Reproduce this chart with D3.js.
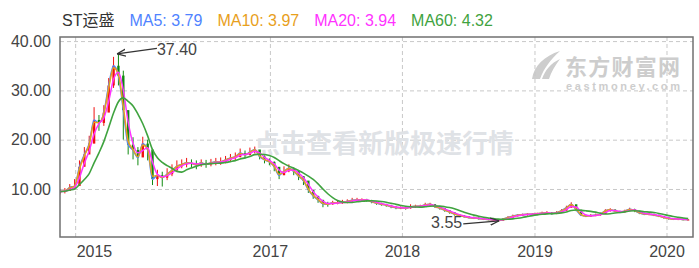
<!DOCTYPE html>
<html lang="zh">
  <head>
    <meta charset="utf-8">
    <title>ST运盛</title>
    <script src="https://d3js.org/d3.v7.min.js"></script>
    <style>
      body { margin: 0; background: #fff; }
      svg text { font-family: Arial, "Liberation Sans", "Noto Sans CJK SC", sans-serif; }
    </style>
  </head>
  <body>
    <div id="chart"></div>
    <script type="text/javascript">
      // each bar covers 9 trading days, first bar starts at trading day 0
      const barDays = 9;
      const totalDays = 1170;

      const closes = [9.5, 9.6, 10.3, 10.6, 14.5, 17.0, 19.2, 24.0, 23.4, 25.5,
        31.0, 35.0, 33.0, 26.0, 19.0, 17.9, 16.4, 19.2, 18.0, 12.0,
        12.8, 12.3, 13.0, 13.8, 14.6, 15.0, 15.3, 15.2, 14.9, 15.3,
        15.0, 15.3, 15.5, 15.5, 15.9, 16.3, 16.5, 17.3, 16.9, 17.5,
        18.0, 16.6, 15.9, 15.5, 14.5, 12.8, 13.6, 14.2, 13.6, 12.6,
        11.7, 9.8, 8.6, 7.8, 7.0, 6.9, 7.2, 7.2, 7.3, 7.5,
        7.7, 7.8, 7.8, 7.7, 7.4, 7.1, 6.9, 6.7, 6.4, 6.2,
        6.2, 6.1, 6.4, 6.5, 6.5, 6.8, 6.9, 6.4, 6.1, 5.7,
        5.3, 4.9, 4.6, 4.4, 4.2, 4.1, 4.0, 3.9, 3.8, 3.7,
        3.6, 3.9, 4.2, 4.5, 4.7, 4.8, 4.9, 4.9, 5.0, 5.1,
        5.2, 5.0, 5.2, 5.6, 6.2, 6.9, 5.8, 4.7, 4.5, 4.6,
        4.7, 4.9, 5.6, 5.8, 5.5, 5.3, 5.5, 5.9, 5.6, 5.1,
        4.9, 4.9, 4.7, 4.5, 4.2, 4.0, 3.9, 3.9, 3.8, 3.8];

      const opens = [9.2, 9.5, 9.6, 10.3, 10.6, 14.5, 17.0, 19.2, 24.0, 23.4,
        25.5, 31.0, 35.0, 33.0, 26.0, 19.0, 17.9, 16.4, 19.2, 18.0,
        12.0, 12.8, 12.3, 13.0, 13.8, 14.6, 15.0, 15.3, 15.2, 14.9,
        15.3, 15.0, 15.3, 15.5, 15.5, 15.9, 16.3, 16.5, 17.3, 16.9,
        17.5, 18.0, 16.6, 15.9, 15.5, 14.5, 12.8, 13.6, 14.2, 13.6,
        12.6, 11.7, 9.8, 8.6, 7.8, 7.0, 6.9, 7.2, 7.2, 7.3,
        7.5, 7.7, 7.8, 7.8, 7.7, 7.4, 7.1, 6.9, 6.7, 6.4,
        6.2, 6.2, 6.1, 6.4, 6.5, 6.5, 6.8, 6.9, 6.4, 6.1,
        5.7, 5.3, 4.9, 4.6, 4.4, 4.2, 4.1, 4.0, 3.9, 3.8,
        3.7, 3.6, 3.9, 4.2, 4.5, 4.7, 4.8, 4.9, 4.9, 5.0,
        5.1, 5.2, 5.0, 5.2, 5.6, 6.2, 6.9, 5.8, 4.7, 4.5,
        4.6, 4.7, 4.9, 5.6, 5.8, 5.5, 5.3, 5.5, 5.9, 5.6,
        5.1, 4.9, 4.9, 4.7, 4.5, 4.2, 4.0, 3.9, 3.9, 3.8];

      const highs = [10.0, 10.2, 11.0, 12.0, 15.8, 18.5, 20.8, 26.6, 25.0, 27.0,
        32.5, 36.8, 37.4, 34.0, 23.0, 20.5, 18.5, 20.6, 20.0, 15.5,
        13.9, 13.5, 14.2, 15.0, 15.8, 16.0, 16.3, 16.0, 15.8, 16.0,
        15.9, 16.1, 16.3, 16.4, 16.7, 17.1, 17.4, 18.2, 17.8, 18.4,
        18.6, 17.8, 16.8, 16.2, 15.6, 14.2, 14.6, 15.0, 14.4, 13.6,
        12.6, 11.0, 9.6, 8.6, 7.6, 7.4, 7.6, 7.6, 7.8, 7.9,
        8.2, 8.2, 8.1, 8.0, 7.8, 7.5, 7.2, 7.0, 6.8, 6.5,
        6.5, 6.4, 6.9, 6.8, 6.8, 7.2, 7.2, 6.9, 6.4, 6.1,
        5.7, 5.3, 4.9, 4.7, 4.5, 4.4, 4.3, 4.2, 4.1, 3.9,
        3.9, 4.1, 4.5, 4.8, 4.9, 5.0, 5.1, 5.1, 5.2, 5.4,
        5.5, 5.3, 5.5, 5.9, 6.6, 7.3, 6.7, 5.6, 4.8, 4.9,
        5.0, 5.2, 5.9, 6.1, 5.9, 5.6, 5.8, 6.2, 6.0, 5.5,
        5.2, 5.1, 5.0, 4.8, 4.5, 4.3, 4.1, 4.1, 4.0, 3.9];

      const lows = [8.9, 9.1, 9.6, 10.1, 12.0, 15.2, 17.6, 21.0, 21.8, 22.8,
        26.0, 30.5, 31.0, 20.0, 17.0, 16.0, 14.8, 17.0, 15.8, 10.8,
        10.6, 10.5, 11.8, 12.6, 13.5, 14.2, 14.4, 14.3, 14.0, 14.5,
        14.3, 14.6, 14.8, 14.9, 15.2, 15.6, 15.8, 16.4, 16.2, 16.8,
        17.2, 16.0, 15.2, 14.8, 13.6, 12.0, 12.8, 13.4, 12.8, 11.8,
        10.8, 9.2, 8.0, 7.2, 6.3, 6.4, 6.8, 6.9, 7.0, 7.1,
        7.3, 7.4, 7.5, 7.4, 7.1, 6.8, 6.6, 6.4, 6.1, 5.9,
        5.9, 5.8, 6.0, 6.2, 6.2, 6.4, 6.6, 6.2, 5.8, 5.4,
        5.0, 4.6, 4.3, 4.2, 4.0, 3.9, 3.8, 3.7, 3.65, 3.6,
        3.55, 3.6, 3.9, 4.2, 4.4, 4.5, 4.6, 4.7, 4.7, 4.8,
        4.9, 4.8, 4.9, 5.2, 5.6, 6.2, 5.5, 4.5, 4.3, 4.4,
        4.5, 4.6, 5.0, 5.4, 5.3, 5.1, 5.2, 5.5, 5.3, 4.9,
        4.7, 4.7, 4.5, 4.3, 4.0, 3.8, 3.7, 3.7, 3.65, 3.7];

      // first trading day of each labelled year
      const yearTickDays = [28, 388, 632, 877, 1121];
      const yearLabels = ["2015", "2017", "2018", "2019", "2020"];
      const priceTicks = [10, 20, 30, 40];

      const stockName = "ST运盛";
      const maNames = ["MA5", "MA10", "MA20", "MA60"];
      const maDays = [5, 10, 20, 60];
      const maLatest = ["3.79", "3.97", "3.94", "4.32"];
      const maColors = ["#4f83ff", "#e8a01c", "#ff33ff", "#3fa33f"];

      const width = 699, height = 268;
      const plot = { left: 60, right: 693, top: 37, bottom: 237 };

      let svg = d3.select("#chart").append("svg")
        .attr("width", width)
        .attr("height", height);

      let xScale = d3.scaleLinear().domain([0, totalDays]).range([plot.left, plot.right]);
      let yScale = d3.scaleLinear().domain([0.26, 40.83]).range([plot.bottom, plot.top]);

      // moving average over the bar closes, window given in trading days
      let movingAverage = function(values, days) {
        let span = days / barDays;
        return values.map((v, i) => {
          let left = span, sum = 0, wsum = 0;
          for (let k = i; k >= 0 && left > 0; k--) {
            let w = Math.min(1, left);
            sum += values[k] * w;
            wsum += w;
            left -= w;
          }
          return sum / wsum;
        });
      }

      // watermark: eastmoney logo
      let logo = svg.append("g").attr("fill", "#cdcdcd");
      logo.append("path")
        .attr("d", "M532,79 C534,66 544,56 560,51 C551,59 544,68 540,79 Z");
      logo.append("path")
        .attr("d", "M542,79 C545,70 551,63 560,59 C555,66 551,72 549,79 Z");
      logo.append("text")
        .attr("x", 565).attr("y", 75)
        .style("font-size", "22px").style("font-weight", "bold")
        .attr("textLength", 115)
        .text("东方财富网");
      logo.append("text")
        .attr("x", 566).attr("y", 89.5)
        .style("font-size", "11px").style("font-weight", "bold")
        .attr("textLength", 114)
        .text("eastmoney.com");

      // gridlines
      svg.append("g")
        .attr("transform", `translate(${plot.left},0)`)
        .call(d3.axisLeft(yScale).tickValues(priceTicks).tickSize(-(plot.right - plot.left)).tickFormat(""))
        .call(g => g.select(".domain").remove())
        .selectAll("line")
          .attr("stroke", "#c8c8c8")
          .attr("stroke-dasharray", "4,3");

      svg.append("g")
        .attr("transform", `translate(0,${plot.bottom})`)
        .call(d3.axisBottom(xScale).tickValues(yearTickDays).tickSize(-(plot.bottom - plot.top)).tickFormat(""))
        .call(g => g.select(".domain").remove())
        .selectAll("line")
          .attr("stroke", "#c8c8c8")
          .attr("stroke-dasharray", "4,3");

      // watermark text
      svg.append("text")
        .attr("x", 384).attr("y", 153)
        .attr("text-anchor", "middle")
        .style("font-size", "26px").style("font-weight", "bold")
        .attr("fill", "#dfe2e6")
        .text("点击查看新版极速行情");

      svg.append("clipPath").attr("id", "plot-clip")
        .append("rect")
          .attr("x", plot.left).attr("y", plot.top)
          .attr("width", plot.right - plot.left).attr("height", plot.bottom - plot.top);

      let area = svg.append("g").attr("clip-path", "url(#plot-clip)");

      // candles
      let bars = closes.map((c, i) => ({ day: i * barDays, open: opens[i], close: c, high: highs[i], low: lows[i] }));
      let candleColor = (d) => d.close >= d.open ? "#f01010" : "#118a11";

      area.selectAll(".wick")
        .data(bars)
        .enter()
        .append("line")
          .attr("x1", (d) => xScale(d.day))
          .attr("x2", (d) => xScale(d.day))
          .attr("y1", (d) => yScale(d.high))
          .attr("y2", (d) => yScale(d.low))
          .attr("stroke", candleColor)
          .attr("stroke-width", 1);

      area.selectAll(".body")
        .data(bars)
        .enter()
        .append("rect")
          .attr("x", (d) => xScale(d.day) - 1.2)
          .attr("width", 2.4)
          .attr("y", (d) => yScale(Math.max(d.open, d.close)))
          .attr("height", (d) => Math.max(1, Math.abs(yScale(d.open) - yScale(d.close))))
          .attr("fill", candleColor);

      // moving average lines
      let line = d3.line()
        .x((d, i) => xScale(i * barDays))
        .y((d) => yScale(d))
        .curve(d3.curveMonotoneX);

      maDays.forEach((n, k) => {
        area.append("path")
          .datum(movingAverage(closes, n))
          .attr("d", line)
          .attr("fill", "none")
          .attr("stroke", maColors[k])
          .attr("stroke-width", k == 3 ? 1.6 : 1.5);
      });

      // frame
      svg.append("rect")
        .attr("x", plot.left).attr("y", plot.top)
        .attr("width", plot.right - plot.left).attr("height", plot.bottom - plot.top)
        .attr("fill", "none")
        .attr("stroke", "#707070")
        .attr("stroke-width", 1.5);

      // y axis labels
      svg.append("g")
        .attr("transform", `translate(${plot.left - 6},0)`)
        .call(d3.axisLeft(yScale).tickValues(priceTicks).tickSize(0).tickFormat(d3.format(".2f")))
        .call(g => g.select(".domain").remove())
        .selectAll("text")
          .attr("fill", "#444")
          .style("font-size", "16px");

      // x axis labels
      let xAxisG = svg.append("g")
        .attr("transform", `translate(0,${plot.bottom})`)
        .call(d3.axisBottom(xScale).tickValues(yearTickDays).tickSize(0).tickPadding(0)
          .tickFormat((d, i) => yearLabels[i]))
        .call(g => g.select(".domain").remove());
      xAxisG.selectAll("text")
        .attr("fill", "#444")
        .attr("y", 19.5)
        .attr("dy", 0)
        .style("font-size", "16px")
        .each(function(d) {
          // keep the first label inside the frame
          let w = this.getComputedTextLength();
          if (xScale(d) - w / 2 < plot.left) {
            d3.select(this).attr("text-anchor", "start").attr("x", 1);
          }
        });

      // legend
      let legend = svg.append("g").attr("transform", "translate(62,26)");
      let lx = 0;
      let items = [{ text: stockName, color: "#333" }]
        .concat(maNames.map((m, k) => ({ text: m + ": " + maLatest[k], color: maColors[k] })));
      items.forEach((it) => {
        let t = legend.append("text")
          .attr("x", lx)
          .attr("fill", it.color)
          .style("font-size", "16px")
          .text(it.text);
        lx += t.node().getComputedTextLength() + 15;
      });

      // max / min annotations
      svg.append("defs").append("marker")
        .attr("id", "arrow")
        .attr("viewBox", "0 0 10 10")
        .attr("refX", 10).attr("refY", 5)
        .attr("markerWidth", 9).attr("markerHeight", 9)
        .attr("markerUnits", "userSpaceOnUse")
        .attr("orient", "auto")
        .append("path")
          .attr("d", "M0,1 L10,5 L0,9")
          .attr("fill", "none")
          .attr("stroke", "#333")
          .attr("stroke-width", 1.3);

      let fmt = d3.format(".2f");
      let iMax = d3.maxIndex(highs), iMin = d3.minIndex(lows);
      let maxX = xScale(iMax * barDays) - 1.5, maxY = yScale(highs[iMax]);
      let minX = xScale(iMin * barDays) + 1, minY = yScale(lows[iMin]);

      svg.append("line")
        .attr("x1", maxX + 40).attr("y1", maxY - 5.5)
        .attr("x2", maxX).attr("y2", maxY)
        .attr("stroke", "#333").attr("stroke-width", 1.2)
        .attr("marker-end", "url(#arrow)");
      svg.append("text")
        .attr("x", maxX + 40).attr("y", maxY + 1)
        .attr("fill", "#444")
        .style("font-size", "16px")
        .text(fmt(highs[iMax]));

      svg.append("line")
        .attr("x1", minX - 36).attr("y1", minY + 3)
        .attr("x2", minX).attr("y2", minY)
        .attr("stroke", "#333").attr("stroke-width", 1.2)
        .attr("marker-end", "url(#arrow)");
      svg.append("text")
        .attr("x", minX - 37).attr("y", minY + 7.5)
        .attr("text-anchor", "end")
        .attr("fill", "#444")
        .style("font-size", "16px")
        .text(fmt(lows[iMin]));
    </script>
  </body>
</html>
